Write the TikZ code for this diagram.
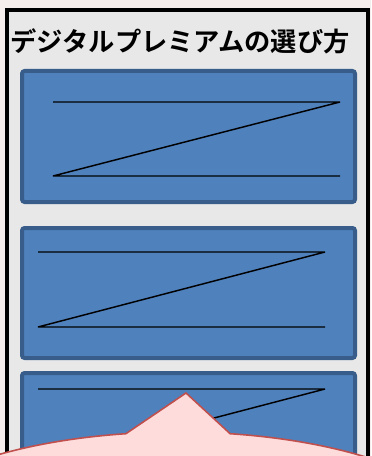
\documentclass[tikz,border=0pt]{standalone}
\usepackage{fontspec}
\newfontfamily\jpfont{Noto Sans CJK JP}[BoldFont={Noto Sans CJK JP Bold}]
\definecolor{slidebg}{HTML}{F6EDED}
\definecolor{panelgray}{HTML}{E8E8E8}
\definecolor{boxfill}{HTML}{4F81BD}
\definecolor{boxedge}{HTML}{385D8A}
\definecolor{calloutfill}{HTML}{FFDCDC}
\definecolor{calloutedge}{HTML}{C0504D}
\tikzset{every picture/.style={line width=0.75pt}}
\tikzset{
  bluebox/.style={fill=boxfill,draw=boxedge,line width=3pt,rounded corners=2pt},
  zline/.style={draw=black,line width=1.1pt,line join=bevel},
  callout/.style={fill=calloutfill,draw=calloutedge,line width=1.2pt}
}

\begin{document}
\begin{tikzpicture}[x=0.75pt,y=0.75pt,yscale=-1,xscale=1]

\useasboundingbox (0,0) rectangle (371,456);
\clip (0,0) rectangle (371,456);
\fill[slidebg] (0,0) rectangle (371,456);

% frame
\draw[fill=panelgray,line width=3pt] (7,10) rectangle (368,520);

\draw (180,41) node (title) [anchor=center][inner sep=0.75pt] {\jpfont\bfseries\fontsize{19.7pt}{22pt}\selectfont デジタルプレミアムの選び方};

% boxes
\draw[bluebox] (22,71) rectangle (355,202);
\draw[zline] (53,102) -- (340,102) -- (53,176) -- (340,176);

\draw[bluebox] (22,228) rectangle (355,358);
\draw[zline] (38,252) -- (325,252) -- (38,327) -- (325,327);

\draw[bluebox] (22,373) rectangle (355,520);
\draw[zline] (38,389) -- (325,389) -- (38,464) -- (325,464);

% callout
\draw[callout] (125.9,433.7) -- (186,393) -- (230.1,433.7) arc[start angle=-80,end angle=260,x radius=300,y radius=114] -- cycle;

\end{tikzpicture}
\end{document}
